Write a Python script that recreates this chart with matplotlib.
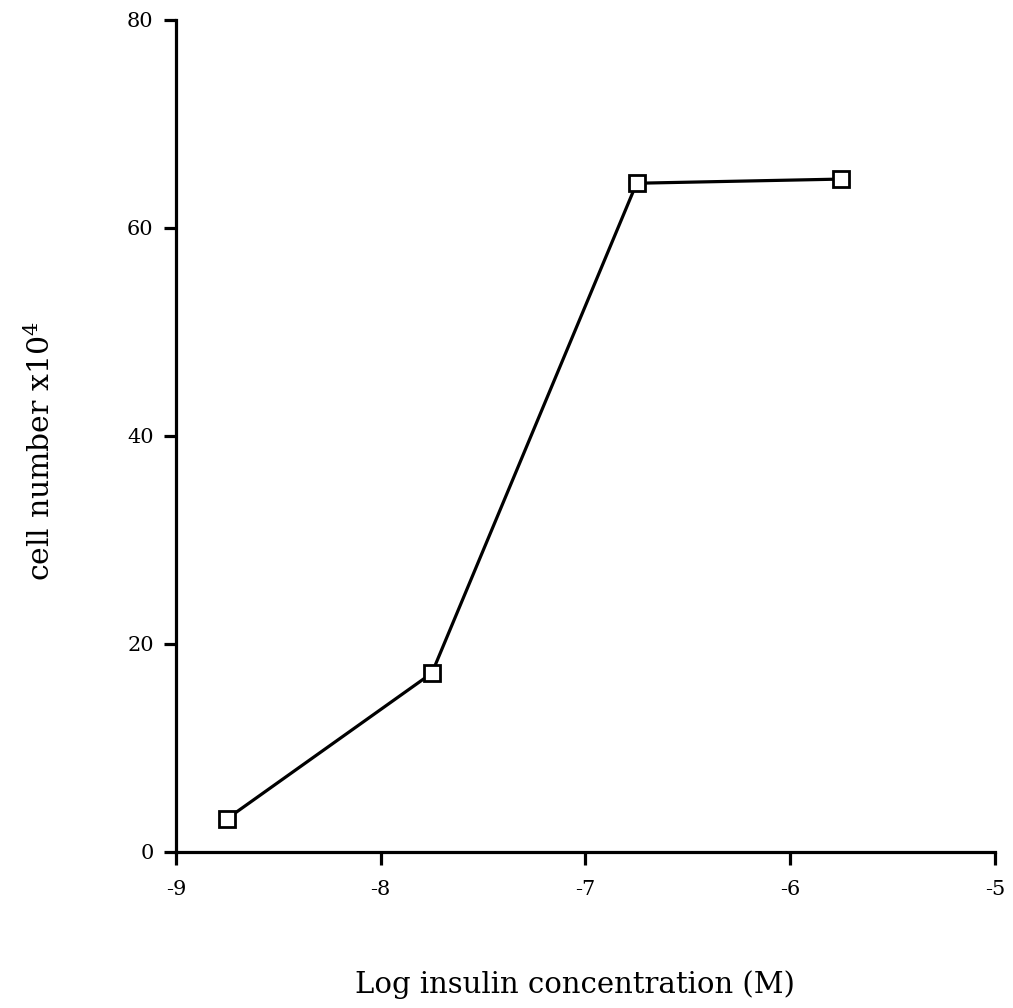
import matplotlib.pyplot as plt

plt.rcParams['font.family'] = ['DejaVu Serif']
plt.rcParams['mathtext.fontset'] = 'dejavuserif'

# data
log_insulin = [-8.75, -7.75, -6.75, -5.75]
cell_number = [3.2, 17.2, 64.3, 64.7]
x_ticks = [-9, -8, -7, -6, -5]
y_ticks = [0, 20, 40, 60, 80]

fig = plt.figure(figsize=(10.13, 10.08), dpi=100)
ax = fig.add_axes([0.1737, 0.1548, 0.8085, 0.8254])

ax.plot(log_insulin, cell_number, color='black', linewidth=2.3,
        marker='s', markersize=12, markerfacecolor='white',
        markeredgecolor='black', markeredgewidth=2.0)

ax.set_xlim(-9, -5)
ax.set_ylim(0, 80)
ax.set_xticks(x_ticks)
ax.set_yticks(y_ticks)
ax.set_xticklabels([str(t) for t in x_ticks])

for s in ['top', 'right']:
    ax.spines[s].set_visible(False)
for s in ['left', 'bottom']:
    ax.spines[s].set_linewidth(2.3)
ax.tick_params(direction='out', length=9, width=2.3, labelsize=15)
ax.tick_params(axis='x', pad=11)
ax.tick_params(axis='y', pad=7)

fig.text(0.5676, 0.023, 'Log insulin concentration (M)', ha='center', va='center',
         fontsize=21)
fig.text(0.04, 0.552, 'cell number x10$^{4}$', ha='center', va='center',
         rotation=90, fontsize=21.5)

fig.savefig('out.png', dpi=100)
